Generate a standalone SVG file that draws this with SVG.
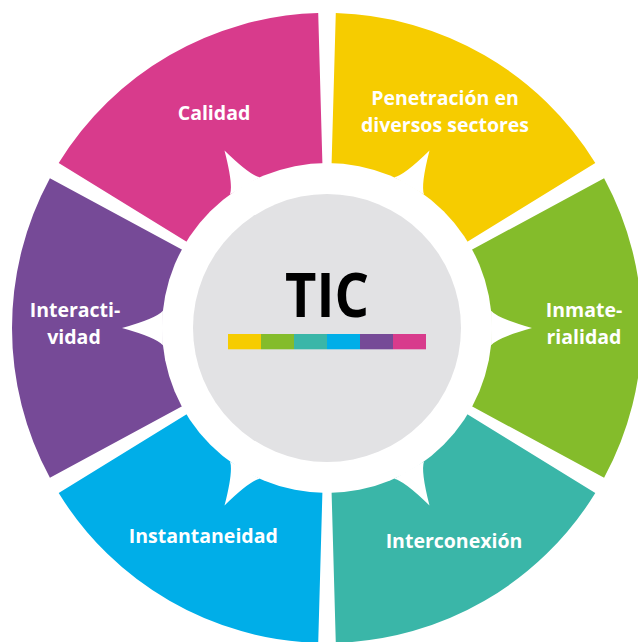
<svg xmlns="http://www.w3.org/2000/svg" xmlns:xlink="http://www.w3.org/1999/xlink" width="638" height="642" viewBox="0 0 638 642">
  <style>
    .lbl { font-family: "Open Sans", "Liberation Sans", sans-serif; font-weight: 700; font-size: 19.5px; fill: #ffffff; text-anchor: middle; }
    .tic { font-family: "Open Sans", "Liberation Sans", sans-serif; font-weight: 700; font-size: 60px; fill: #000000; text-anchor: middle; }
    .star { fill: #ffffff; }
  </style>
  <defs>
    <path id="spike" d="M164.10,-17.25 Q170.73,-9.55 205,0 Q170.73,9.55 164.10,17.25 Z"/>
  </defs>
  <rect x="0" y="0" width="638" height="642" fill="#ffffff"/>

  <g id="node-penetracion">
    <path fill="#F6CC00" d="M595.30,162.94 A315,315 0 0 0 335.79,13.12 L331.19,178.06 A150,150 0 0 1 454.76,249.40 Z"/>
    <text class="lbl" x="445" y="105">Penetración en</text>
    <text class="lbl" x="445" y="131.7">diversos sectores</text>
  </g>
  <g id="node-calidad">
    <path fill="#D83B8C" d="M318.21,13.12 A315,315 0 0 0 58.70,162.94 L199.24,249.40 A150,150 0 0 1 322.81,178.06 Z"/>
    <text class="lbl" x="214" y="120">Calidad</text>
  </g>
  <g id="node-interactividad">
    <path fill="#764A97" d="M49.91,178.18 A315,315 0 0 0 49.91,477.82 L195.05,399.34 A150,150 0 0 1 195.05,256.66 Z"/>
    <text class="lbl" x="75" y="317.3">Interacti-</text>
    <text class="lbl" x="74" y="344">vidad</text>
  </g>
  <g id="node-instantaneidad">
    <path fill="#00AEE8" d="M58.70,493.06 A315,315 0 0 0 318.21,642.88 L322.81,477.94 A150,150 0 0 1 199.24,406.60 Z"/>
    <text class="lbl" x="203.3" y="543.3">Instantaneidad</text>
  </g>
  <g id="node-interconexion">
    <path fill="#3AB6A8" d="M335.79,642.88 A315,315 0 0 0 595.30,493.06 L454.76,406.60 A150,150 0 0 1 331.19,477.94 Z"/>
    <text class="lbl" x="454" y="548.3">Interconexión</text>
  </g>
  <g id="node-inmaterialidad">
    <path fill="#84BC2B" d="M604.09,477.82 A315,315 0 0 0 604.09,178.18 L458.95,256.66 A150,150 0 0 1 458.95,399.34 Z"/>
    <text class="lbl" x="584" y="317.3">Inmate-</text>
    <text class="lbl" x="584" y="344">rialidad</text>
  </g>

  <g id="node-tic">
    <g class="star" transform="translate(327,328)">
      <circle cx="0" cy="0" r="165"/>
      <use xlink:href="#spike" href="#spike"/>
      <use xlink:href="#spike" href="#spike" transform="rotate(-60)"/>
      <use xlink:href="#spike" href="#spike" transform="rotate(-120)"/>
      <use xlink:href="#spike" href="#spike" transform="rotate(180)"/>
      <use xlink:href="#spike" href="#spike" transform="rotate(120)"/>
      <use xlink:href="#spike" href="#spike" transform="rotate(60)"/>
    </g>
    <circle cx="327" cy="328" r="134" fill="#E2E2E4"/>
    <text class="tic" x="327" y="316.7" textLength="84" lengthAdjust="spacingAndGlyphs">TIC</text>
    <g id="colour-bar">
      <rect x="228" y="334" width="33" height="15.3" fill="#F6CC00"/>
      <rect x="261" y="334" width="33" height="15.3" fill="#84BC2B"/>
      <rect x="294" y="334" width="33" height="15.3" fill="#3AB6A8"/>
      <rect x="327" y="334" width="33" height="15.3" fill="#00AEE8"/>
      <rect x="360" y="334" width="33" height="15.3" fill="#764A97"/>
      <rect x="393" y="334" width="33" height="15.3" fill="#D83B8C"/>
    </g>
  </g>
</svg>
